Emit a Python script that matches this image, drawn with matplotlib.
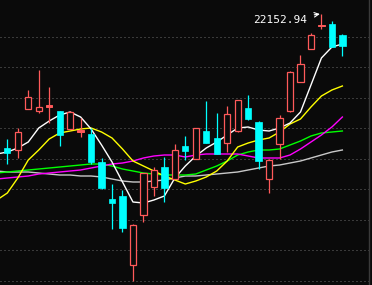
import numpy as np
import matplotlib
matplotlib.use('Agg')
import matplotlib.pyplot as plt
from matplotlib.patches import Rectangle

# Daily candles (open, high, low, close)
opens = [21617, 21609, 21773, 21765, 21781, 21765, 21693, 21681, 21673, 21561, 21413,
         21425, 21149, 21349, 21461, 21541, 21493, 21625, 21573, 21685, 21657, 21637,
         21685, 21777, 21721, 21493, 21633, 21765, 21881, 22013, 22105, 22113, 22069]
highs = [21653, 21697, 21849, 21929, 21861, 21765, 21765, 21737, 21697, 21577, 21473,
         21449, 21313, 21517, 21541, 21581, 21633, 21665, 21697, 21805, 21757, 21785,
         21809, 21829, 21725, 21573, 21749, 21925, 21989, 22077, 22152.94, 22125, 22073]
lows = [21553, 21577, 21773, 21757, 21717, 21625, 21693, 21661, 21553, 21453, 21293,
        21281, 21085, 21321, 21425, 21401, 21493, 21569, 21573, 21637, 21593, 21601,
        21681, 21729, 21533, 21437, 21573, 21761, 21881, 22013, 22093, 22021, 21985]
closes = [21597, 21681, 21821, 21781, 21789, 21669, 21761, 21689, 21561, 21457, 21397,
          21297, 21309, 21517, 21529, 21457, 21609, 21605, 21697, 21637, 21593, 21753,
          21809, 21733, 21565, 21569, 21737, 21921, 21953, 22069, 22109, 22021, 22025]

# Moving average lines, read at each candle (first value is the day before the window)
ma_white = [21593, 21601, 21617, 21641, 21697, 21725, 21749, 21761, 21741, 21693, 21629,
            21561, 21481, 21401, 21397, 21409, 21425, 21497, 21545, 21585, 21617, 21641,
            21669, 21697, 21701, 21689, 21685, 21697, 21717, 21761, 21869, 21977, 22021, 22033]
ma_yellow = [21409, 21437, 21497, 21569, 21609, 21653, 21677, 21685, 21693, 21697, 21681,
             21657, 21613, 21565, 21545, 21525, 21505, 21489, 21473, 21485, 21501, 21525,
             21565, 21621, 21637, 21649, 21657, 21681, 21713, 21733, 21781, 21825, 21849, 21865]
ma_magenta = [21493, 21497, 21501, 21505, 21513, 21517, 21521, 21525, 21529, 21537, 21545,
              21553, 21557, 21565, 21577, 21585, 21589, 21589, 21581, 21589, 21593, 21593,
              21593, 21593, 21585, 21577, 21577, 21577, 21589, 21613, 21641, 21669, 21701, 21741]
ma_green = [21517, 21521, 21525, 21529, 21533, 21537, 21541, 21545, 21549, 21553, 21553,
            21545, 21533, 21525, 21517, 21513, 21509, 21509, 21509, 21513, 21529, 21545,
            21565, 21589, 21601, 21609, 21609, 21613, 21629, 21645, 21665, 21677, 21681, 21685]
ma_gray = [21525, 21521, 21521, 21521, 21517, 21513, 21509, 21509, 21505, 21505, 21501,
           21493, 21485, 21481, 21481, 21485, 21489, 21497, 21505, 21505, 21509, 21513,
           21517, 21521, 21529, 21537, 21545, 21549, 21557, 21565, 21577, 21589, 21601, 21609]

peak_label = '22152.94'

BG = '#0a0a0a'
UP = '#ff5a5a'
DOWN = '#00ffff'

fig = plt.figure(figsize=(3.72, 2.85), dpi=100, facecolor=BG)
ax = fig.add_axes([0, 0, 1, 1])
ax.set_facecolor(BG)

n = len(opens)
idx = np.arange(n)

# dotted grid
ax.set_yticks(np.linspace(22061, 21087, 9))
ax.grid(axis='y', color='#6a6a6a', linestyle=(0, (1, 3)), linewidth=0.72)
ax.tick_params(left=False, bottom=False, labelleft=False, labelbottom=False)
for s in ax.spines.values():
    s.set_visible(False)

# moving averages
xs = np.arange(-1, n)
ax.plot(xs, ma_gray, color='#c8c8c8', lw=1.0, zorder=2)
ax.plot(xs, ma_green, color='#00ff00', lw=1.0, zorder=2)
ax.plot(xs, ma_magenta, color='#ff00ff', lw=1.0, zorder=2)
ax.plot(xs, ma_yellow, color='#ffff00', lw=1.0, zorder=2)
ax.plot(xs, ma_white, color='#ffffff', lw=1.0, zorder=2)

# candles
w = 0.6
for i in idx:
    o, h, l, c = opens[i], highs[i], lows[i], closes[i]
    top, bot = max(o, c), min(o, c)
    if c >= o:
        ax.vlines(i, top, h, color=UP, lw=0.9, zorder=3)
        ax.vlines(i, l, bot, color=UP, lw=0.9, zorder=3)
        if top - bot < 10:
            ax.add_patch(Rectangle((i - w / 2, bot), w, max(top - bot, 4),
                                   facecolor=UP, edgecolor=UP, lw=0.7, zorder=4))
        else:
            ax.add_patch(Rectangle((i - w / 2, bot), w, top - bot,
                                   facecolor=BG, edgecolor=UP, lw=0.9, zorder=4))
    else:
        ax.vlines(i, l, h, color=DOWN, lw=0.9, zorder=3)
        ax.add_patch(Rectangle((i - w / 2, bot), w, top - bot,
                               facecolor=DOWN, edgecolor=DOWN, lw=0.5, zorder=4))

ax.set_xlim(-0.70, 34.83)
ax.set_ylim(21069, 22209)

# right border line
fig.add_artist(plt.Line2D([368.5 / 372, 368.5 / 372], [0, 1], transform=fig.transFigure,
                          color='#3a3a3a', lw=1.0))

# peak annotation
peak_i = int(np.argmax(highs))
ax.annotate(peak_label, xy=(peak_i - 0.15, highs[peak_i]), xytext=(23.5, 22131),
            color='white', fontsize=8, family='DejaVu Sans Mono', va='center', ha='left',
            arrowprops=dict(arrowstyle='->', color='white', lw=0.8, shrinkA=3, shrinkB=0))

fig.savefig('out.png', dpi=100, facecolor=BG)
